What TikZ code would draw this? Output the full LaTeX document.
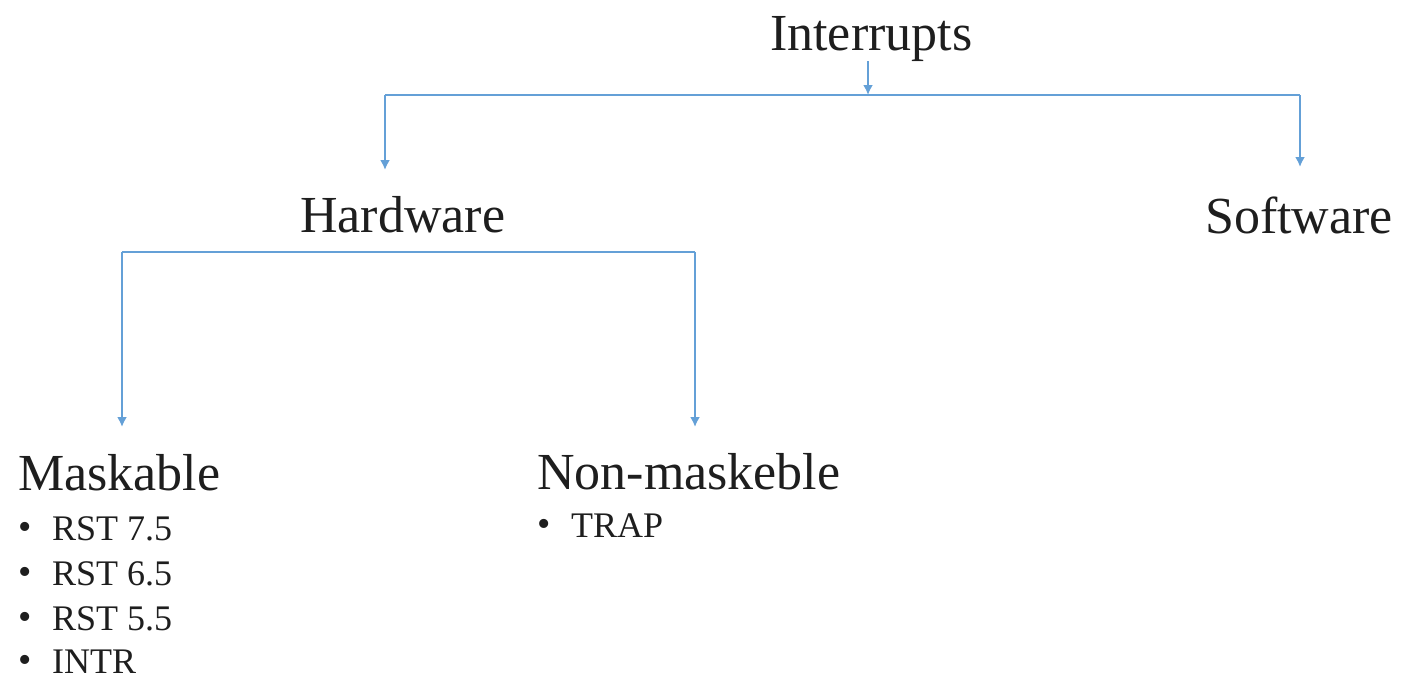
\documentclass[tikz,border=0pt]{standalone}
\usepackage{fontspec}
\setmainfont{Liberation Serif}
\usetikzlibrary{arrows.meta}
\definecolor{linkblue}{RGB}{100,160,215}
\definecolor{txt}{RGB}{30,30,30}
\tikzset{
  head/.style={anchor=base west,inner sep=0pt,text=txt,font=\fontsize{52}{60}\selectfont},
  item/.style={anchor=base west,inner sep=0pt,text=txt,font=\fontsize{36}{42}\selectfont},
  ln/.style={draw=linkblue,line width=2pt},
  arr/.style={ln,-{Latex[length=10pt,width=10pt]}},
}
\newcommand{\bul}[1]{\makebox[34pt][l]{\fontsize{38}{42}\selectfont\raisebox{1pt}{•}}#1}
\begin{document}
\begin{tikzpicture}[x=1pt,y=1pt]
\useasboundingbox (0,0) rectangle (1405,-680);
% headings
\node[head] (int) at (770,-50) {Interrupts};
\node[head] (hw) at (300,-232) {Hardware};
\node[head] (sw) at (1205,-233) {Software};
\node[head] (mask) at (18,-490) {Maskable};
\node[head] (nm) at (537,-489) {Non-maskeble};
% items
\node[item] (m1) at (18,-540) {\bul{RST 7.5}};
\node[item] (m2) at (18,-585) {\bul{RST 6.5}};
\node[item] (m3) at (18,-630) {\bul{RST 5.5}};
\node[item] (m4) at (18,-673) {\bul{INTR}};
\node[item] (n1) at (537,-537) {\bul{TRAP}};
% connector points
\coordinate (bj) at (868,-95);
\coordinate (bl) at (385,-95);
\coordinate (br) at (1300,-95);
\coordinate (hwin) at (385,-170);
\coordinate (swin) at (1300,-167);
\coordinate (hl) at (122,-252);
\coordinate (hr) at (695,-252);
\coordinate (mkin) at (122,-427);
\coordinate (nmin) at (695,-427);
% connectors
\draw[arr] (int.south -| bj) -- (bj);
\draw[ln] (bl) -- (br);
\draw[arr] (bl) -- (hwin);
\draw[arr] (br) -- (swin);
\draw[ln] (hl) -- (hr);
\draw[arr] (hl) -- (mkin);
\draw[arr] (hr) -- (nmin);
\end{tikzpicture}
\end{document}
